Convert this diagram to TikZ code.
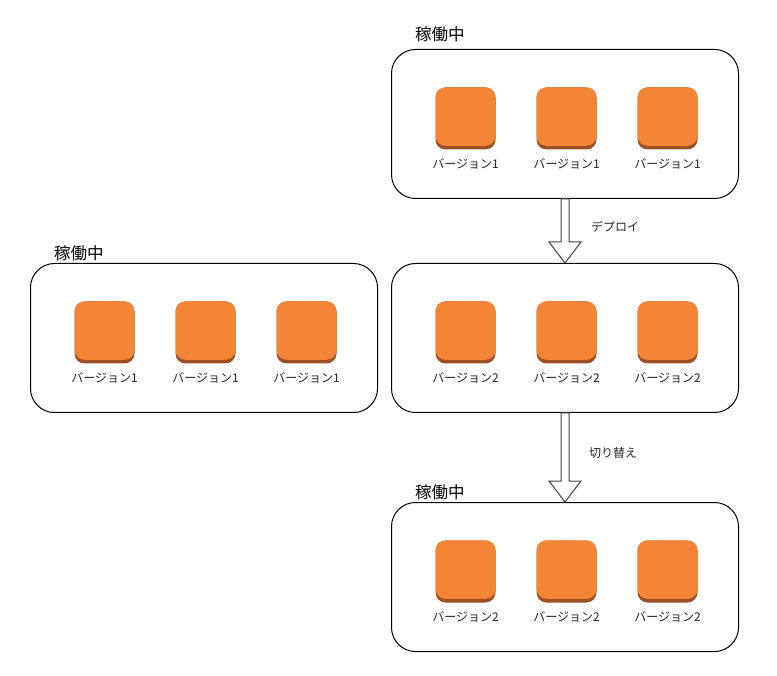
\documentclass[tikz,border=0pt]{standalone}
\usepackage{fontspec}
\setmainfont{Noto Sans CJK JP}
\usetikzlibrary{calc}
\definecolor{iconfill}{HTML}{F58536}
\definecolor{iconedge}{HTML}{9D5025}
\tikzset{
  panel/.style={draw=black,line width=1pt,fill=white,rounded corners=24pt,minimum width=347pt,minimum height=149pt,inner sep=0pt},
  iconbase/.style={fill=iconedge,rounded corners=10pt,minimum width=60pt,minimum height=62pt,inner sep=0pt},
  icontop/.style={fill=iconfill,rounded corners=10pt,minimum width=60pt,minimum height=58.5pt,inner sep=0pt},
  caption/.style={font=\fontsize{12pt}{14pt}\selectfont,text=black!85,inner sep=0pt},
  heading/.style={font=\fontsize{16.5pt}{19pt}\selectfont,text=black,inner sep=0pt},
  fatarrow/.style={draw=black!75,line width=1pt,fill=white,line join=miter},
}
\newcommand{\iconrow}[2]{% panel name, version
  \foreach \dx/\n in {-99.5/a,1.5/b,102.5/c}{
    \node[iconbase] (#1\n) at ($(#1.center)+(\dx,-5.5)$) {};
    \node[icontop] (#1\n t) at ($(#1\n.north)+(0,29.25)$) {};
    \node[caption] (#1\n l) at ($(#1\n.south)+(0,14.5)$) {バージョン#2};
  }
}
\newcommand{\fatdown}[2]{% from node, to node
  \draw[fatarrow]
    ($(#1.south)+(-4,0)$) -- ($(#2.north)+(-4,-21)$) -- ($(#2.north)+(-16,-21)$)
    -- (#2.north) -- ($(#2.north)+(16,-21)$) -- ($(#2.north)+(4,-21)$)
    -- ($(#1.south)+(4,0)$) -- cycle;
}
\begin{document}
\begin{tikzpicture}[x=1pt,y=-1pt]
\useasboundingbox (0,0) rectangle (777,676);
\node[panel] (top) at (565,124) {};
\node[panel] (mid) at (565,338) {};
\node[panel] (bot) at (565,577) {};
\node[panel] (left) at (204,338) {};
\iconrow{top}{1}
\iconrow{mid}{2}
\iconrow{bot}{2}
\iconrow{left}{1}
\node[heading,anchor=west] (h1) at (415,34) {稼働中};
\node[heading,anchor=west] (h2) at (54,253) {稼働中};
\node[heading,anchor=west] (h3) at (415,492) {稼働中};
\fatdown{top}{mid}
\fatdown{mid}{bot}
\node[caption,anchor=west] (d) at (591,226.5) {デプロイ};
\node[caption,anchor=west] (s) at (589,452.5) {切り替え};
\end{tikzpicture}
\end{document}
